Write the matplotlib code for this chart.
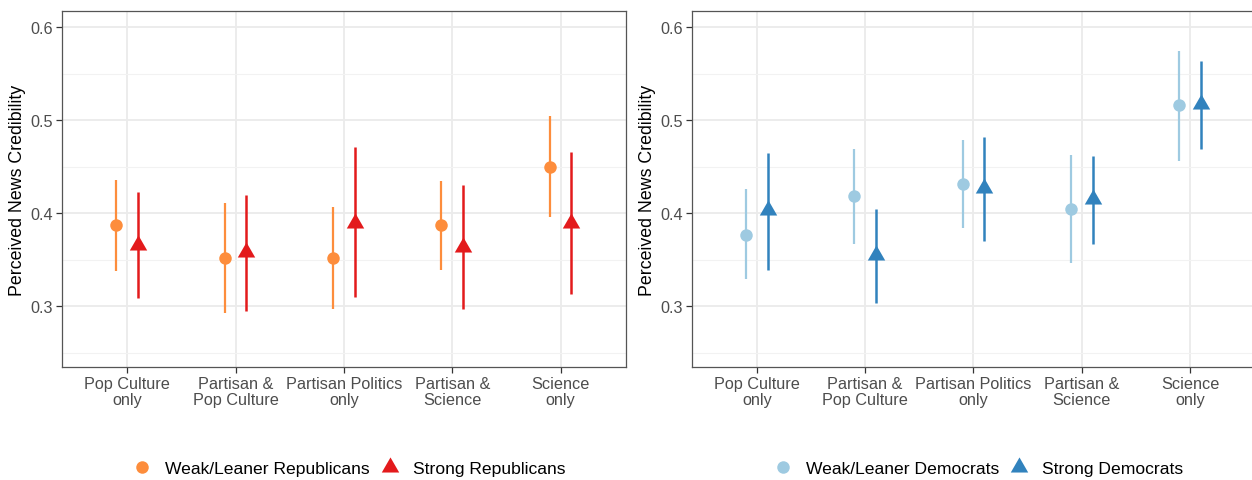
import matplotlib
matplotlib.use("Agg")
import matplotlib.pyplot as plt
import numpy as np
from matplotlib.lines import Line2D

plt.rcParams['font.family'] = ['Liberation Sans', 'DejaVu Sans']

categories = ["Pop Culture\nonly", "Partisan &\nPop Culture", "Partisan Politics\nonly",
              "Partisan &\nScience", "Science\nonly"]

rep_weak_est = [0.387, 0.352, 0.352, 0.387, 0.450]
rep_weak_lo = [0.338, 0.293, 0.297, 0.339, 0.396]
rep_weak_hi = [0.436, 0.411, 0.407, 0.435, 0.504]
rep_strong_est = [0.366, 0.358, 0.390, 0.364, 0.390]
rep_strong_lo = [0.309, 0.295, 0.310, 0.297, 0.313]
rep_strong_hi = [0.423, 0.420, 0.471, 0.430, 0.466]

dem_weak_est = [0.377, 0.418, 0.431, 0.404, 0.516]
dem_weak_lo = [0.329, 0.367, 0.384, 0.346, 0.456]
dem_weak_hi = [0.426, 0.469, 0.479, 0.463, 0.574]
dem_strong_est = [0.403, 0.355, 0.427, 0.415, 0.517]
dem_strong_lo = [0.339, 0.304, 0.370, 0.367, 0.469]
dem_strong_hi = [0.465, 0.405, 0.482, 0.462, 0.564]

W, H = 1252, 481
fig = plt.figure(figsize=(W / 100, H / 100), dpi=100)

tri = [(-1.0, -0.577), (1.0, -0.577), (0.0, 1.155), (-1.0, -0.577)]


def px_axes(l, t, r, b):
    return fig.add_axes([l / W, 1 - b / H, (r - l) / W, (b - t) / H])


def draw(ax, weak, strong, c_weak, c_strong, lab_weak, lab_strong):
    x = np.arange(len(categories))
    d = 0.1
    (we, wl, wh), (se, sl, sh) = weak, strong
    ax.vlines(x - d, wl, wh, color=c_weak, lw=1.6, zorder=3)
    ax.vlines(x + d, sl, sh, color=c_strong, lw=1.8, zorder=3)
    ax.plot(x - d, we, 'o', color=c_weak, ms=9, mew=0, zorder=4)
    ax.plot(x + d, se, ls='none', marker=tri, color=c_strong, ms=14.5, mew=0, zorder=4)
    ax.set_xlim(-0.6, len(categories) - 0.4)
    ax.set_ylim(0.2344, 0.617)
    ax.set_yticks([0.3, 0.4, 0.5, 0.6])
    ax.set_yticks([0.25, 0.35, 0.45, 0.55], minor=True)
    ax.set_yticklabels(['0.3', '0.4', '0.5', '0.6'])
    ax.set_xticks(x)
    ax.set_xticklabels(categories, linespacing=1.05)
    ax.grid(True, which='major', color='#EBEBEB', lw=1.3, zorder=0)
    ax.grid(True, which='minor', axis='y', color='#F2F2F2', lw=0.8, zorder=0)
    ax.set_axisbelow(True)
    ax.tick_params(axis='both', which='major', length=4, width=0.9, color='#333333',
                   labelcolor='#4D4D4D', labelsize=11.7, pad=2.5)
    ax.tick_params(axis='y', which='minor', length=0)
    for s in ax.spines.values():
        s.set_color('#555555')
        s.set_linewidth(0.9)
    ax.set_ylabel('Perceived News Credibility', fontsize=12.8, color='black', labelpad=3)
    handles = [Line2D([], [], ls='none', marker='o', color=c_weak, ms=9, mew=0),
               Line2D([], [], ls='none', marker=tri, color=c_strong, ms=14.5, mew=0)]
    ax.legend(handles, [lab_weak, lab_strong], loc='center', bbox_to_anchor=(0.509, -0.283),
              ncol=2, frameon=False, fontsize=12.6, handletextpad=0.75, columnspacing=0.6,
              handlelength=1.1)


ax1 = px_axes(62.3, 12.3, 625.5, 368.3)
draw(ax1, (rep_weak_est, rep_weak_lo, rep_weak_hi),
     (rep_strong_est, rep_strong_lo, rep_strong_hi),
     '#FD8D3C', '#E31A1C', 'Weak/Leaner Republicans', 'Strong Republicans')

ax2 = px_axes(691.8, 12.3, 1255.0, 368.3)
draw(ax2, (dem_weak_est, dem_weak_lo, dem_weak_hi),
     (dem_strong_est, dem_strong_lo, dem_strong_hi),
     '#9ECAE1', '#3182BD', 'Weak/Leaner Democrats', 'Strong Democrats')

fig.savefig('out.png', dpi=100)
